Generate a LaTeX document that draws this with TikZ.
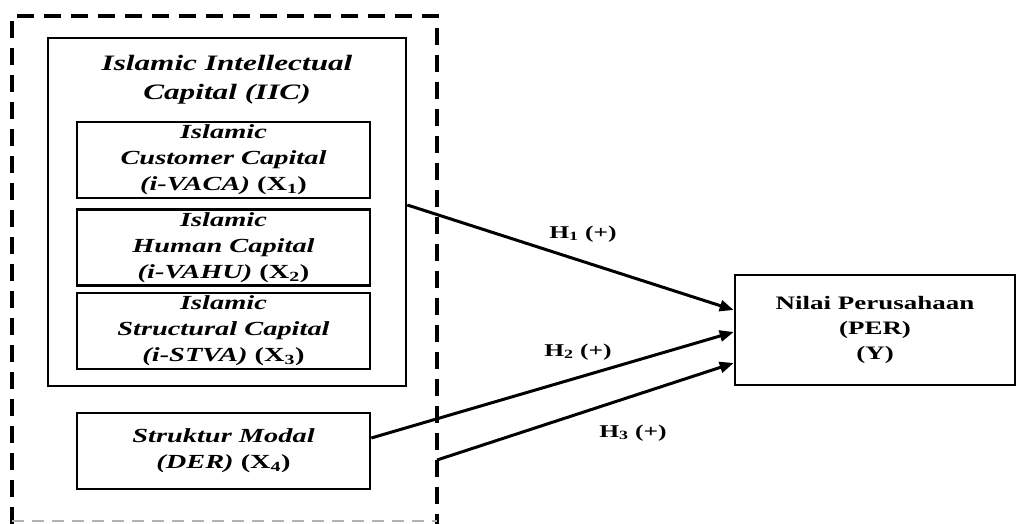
\documentclass[tikz,border=0pt]{standalone}
\usepackage{fontspec}
\setmainfont{Liberation Serif}[FakeStretch=1.42]
\usetikzlibrary{arrows.meta}
\begin{document}
\begin{tikzpicture}[x=1pt,y=-1pt,
  box/.style={draw, line width=2.6pt, inner sep=0pt, align=center},
  varbox/.style={box, minimum width=293, minimum height=76,
     font=\fontsize{20}{26}\selectfont\bfseries\itshape},
  titletext/.style={align=center, inner sep=0pt,
     font=\fontsize{22}{29}\selectfont\bfseries\itshape},
  perbox/.style={box, minimum width=280, minimum height=110,
     font=\fontsize{19}{25}\selectfont\bfseries},
  hlabel/.style={inner sep=0pt, font=\fontsize{18}{22}\selectfont\bfseries},
  grp/.style={line width=4pt, dash pattern=on 17pt off 10pt},
  hyp/.style={line width=3pt, -{Triangle[length=14pt,width=11pt]}}
]
\useasboundingbox (0,0) rectangle (1019,524);
% dashed grouping frame
\draw[grp] (12,524) -- (12,16) -- (437,16) -- (437,524);
\draw[gray!60, line width=2pt, dash pattern=on 12pt off 8pt] (12,521) -- (437,521);
\coordinate (h3s) at (437,460);
% IIC frame
\node[box, minimum width=358, minimum height=348] (iic) at (227,212) {};
\node[titletext] (iictitle) at (227,80) {Islamic Intellectual\\Capital (IIC)};
% variable boxes
\node[varbox] (ca) at (223.5,160) {Islamic\\Customer Capital\\(i-VACA) {\upshape(X\textsubscript{1})}};
\node[varbox] (hu) at (223.5,247.5) {Islamic\\Human Capital\\(i-VAHU) {\upshape(X\textsubscript{2})}};
\node[varbox] (st) at (223.5,331) {Islamic\\Structural Capital\\(i-STVA) {\upshape(X\textsubscript{3})}};
\node[varbox] (der) at (223.5,451) {Struktur Modal\\(DER) {\upshape(X\textsubscript{4})}};
% dependent
\node[perbox] (per) at (875,330) {Nilai Perusahaan\\(PER)\\(Y)};
% hypotheses
\draw[hyp] ([yshift=7pt]iic.east) -- ([yshift=20pt]per.west);
\draw[hyp] ([yshift=13pt]der.east) -- ([yshift=-2pt]per.west);
\draw[hyp] (h3s) -- ([yshift=-33pt]per.west);
\node[hlabel] (h1) at (583,234) {H\textsubscript{1} (+)};
\node[hlabel] (h2) at (578,352) {H\textsubscript{2} (+)};
\node[hlabel] (h3) at (633,433) {H\textsubscript{3} (+)};
\end{tikzpicture}
\end{document}
